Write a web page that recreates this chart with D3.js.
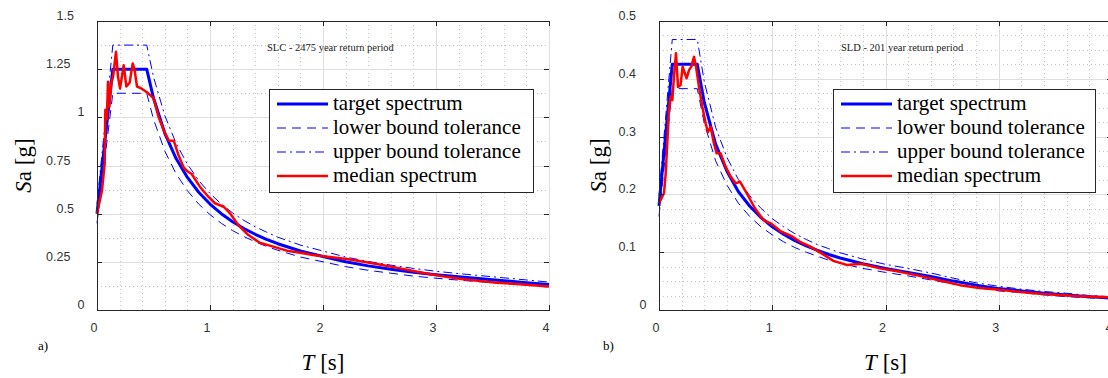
<!DOCTYPE html>
<html>
<head>
<meta charset="utf-8">
<script src="https://cdn.jsdelivr.net/npm/d3@7"></script>
<style>
  body { margin: 0; background: #fff; }
  svg { display: block; }
</style>
</head>
<body>
<div id="chart"></div>
<script>
// periods [s] / spectral acceleration [g]

// a) SLC - 2475 year return period
const periodsSLC = [0, 0.14, 0.44, 0.5, 0.6, 0.7, 0.8, 0.9, 1.0, 1.1, 1.2, 1.3, 1.4, 1.5, 1.6, 1.8, 2.0, 2.2, 2.4, 2.6, 2.8, 3.0, 3.2, 3.4, 3.6, 3.8, 4.0];
const targetSLC = [0.50, 1.25, 1.25, 1.10, 0.917, 0.786, 0.688, 0.611, 0.55, 0.50, 0.458, 0.423, 0.393, 0.367, 0.344, 0.306, 0.278, 0.25, 0.229, 0.212, 0.196, 0.183, 0.172, 0.162, 0.152, 0.142, 0.132];
const lowerSLC = [0.45, 1.125, 1.125, 0.99, 0.825, 0.707, 0.619, 0.55, 0.495, 0.45, 0.412, 0.381, 0.354, 0.33, 0.31, 0.275, 0.25, 0.225, 0.206, 0.191, 0.176, 0.165, 0.155, 0.146, 0.137, 0.128, 0.119];
const upperSLC = [0.55, 1.375, 1.375, 1.21, 1.009, 0.865, 0.757, 0.672, 0.605, 0.55, 0.504, 0.465, 0.432, 0.404, 0.378, 0.337, 0.306, 0.275, 0.252, 0.233, 0.216, 0.201, 0.189, 0.178, 0.167, 0.156, 0.145];
const medianPeriodsSLC = [0, 0.044, 0.068, 0.074, 0.088, 0.097, 0.109, 0.127, 0.142, 0.168, 0.186, 0.204, 0.236, 0.26, 0.289, 0.316, 0.333, 0.354, 0.392, 0.442, 0.48, 0.50, 0.546, 0.59, 0.634, 0.68, 0.723, 0.767, 0.80, 0.838, 0.91, 0.985, 1.044, 1.12, 1.177, 1.25, 1.34, 1.44, 1.56, 1.68, 1.80, 1.91, 2.06, 2.21, 2.36, 2.50, 2.65, 2.80, 2.95, 3.09, 3.24, 3.39, 3.54, 3.68, 3.83, 4.0];
const medianSLC = [0.50, 0.62, 0.76, 1.04, 0.99, 1.185, 1.055, 1.18, 1.21, 1.34, 1.21, 1.15, 1.27, 1.16, 1.18, 1.28, 1.245, 1.16, 1.15, 1.13, 1.11, 1.10, 1.00, 0.934, 0.88, 0.878, 0.80, 0.74, 0.72, 0.706, 0.64, 0.588, 0.554, 0.536, 0.502, 0.441, 0.389, 0.349, 0.329, 0.308, 0.297, 0.285, 0.275, 0.265, 0.25, 0.236, 0.22, 0.202, 0.186, 0.172, 0.16, 0.15, 0.142, 0.136, 0.13, 0.122];
const yTicksSLC = [0, 0.25, 0.5, 0.75, 1, 1.25, 1.5];
const yTickLabelsSLC = ["0", "0.25", "0.5", "0.75", "1", "1.25", "1.5"];

// b) SLD - 201 year return period
const periodsSLD = [0, 0.117, 0.338, 0.4, 0.5, 0.6, 0.7, 0.8, 0.9, 1.0, 1.1, 1.2, 1.3, 1.4, 1.5, 1.6, 1.8, 2.0, 2.2, 2.4, 2.6, 2.8, 3.0, 3.2, 3.4, 3.6, 3.8, 4.0];
const targetSLD = [0.18, 0.425, 0.425, 0.359, 0.287, 0.240, 0.205, 0.180, 0.160, 0.144, 0.131, 0.120, 0.111, 0.103, 0.096, 0.090, 0.080, 0.072, 0.065, 0.058, 0.050, 0.043, 0.037, 0.033, 0.029, 0.026, 0.023, 0.021];
const lowerSLD = [0.162, 0.383, 0.383, 0.323, 0.258, 0.216, 0.185, 0.162, 0.144, 0.130, 0.118, 0.108, 0.100, 0.093, 0.086, 0.081, 0.072, 0.065, 0.059, 0.052, 0.045, 0.039, 0.033, 0.030, 0.026, 0.023, 0.021, 0.019];
const upperSLD = [0.198, 0.468, 0.468, 0.395, 0.316, 0.264, 0.226, 0.198, 0.176, 0.158, 0.144, 0.132, 0.122, 0.113, 0.106, 0.099, 0.088, 0.079, 0.072, 0.064, 0.055, 0.047, 0.041, 0.036, 0.032, 0.029, 0.025, 0.023];
const medianPeriodsSLD = [0, 0.044, 0.059, 0.079, 0.088, 0.103, 0.118, 0.132, 0.15, 0.168, 0.19, 0.209, 0.227, 0.244, 0.265, 0.285, 0.309, 0.327, 0.353, 0.382, 0.412, 0.432, 0.456, 0.485, 0.509, 0.544, 0.588, 0.633, 0.677, 0.715, 0.774, 0.847, 0.92, 0.995, 1.068, 1.17, 1.245, 1.333, 1.436, 1.54, 1.657, 1.79, 1.95, 2.127, 2.30, 2.48, 2.657, 2.83, 3.01, 3.19, 3.36, 3.54, 3.72, 3.96, 4.0];
const medianSLD = [0.185, 0.202, 0.236, 0.311, 0.346, 0.369, 0.363, 0.404, 0.444, 0.386, 0.389, 0.421, 0.41, 0.401, 0.415, 0.421, 0.438, 0.421, 0.386, 0.352, 0.323, 0.308, 0.317, 0.288, 0.271, 0.271, 0.248, 0.231, 0.219, 0.222, 0.202, 0.176, 0.156, 0.149, 0.137, 0.128, 0.118, 0.110, 0.098, 0.085, 0.078, 0.080, 0.072, 0.066, 0.059, 0.051, 0.043, 0.038, 0.035, 0.031, 0.028, 0.026, 0.024, 0.022, 0.021];
const yTicksSLD = [0, 0.1, 0.2, 0.3, 0.4, 0.5];
const yTickLabelsSLD = ["0", "0.1", "0.2", "0.3", "0.4", "0.5"];

const xTicks = [0, 1, 2, 3, 4];
const xTickLabels = ["0", "1", "2", "3", "4"];
const legendLabels = ["target spectrum", "lower bound tolerance", "upper bound tolerance", "median spectrum"];

const blue = "#0000ff", red = "#ff0000", axisColor = "#262626";
const serif = "'Liberation Serif', 'Times New Roman', serif";
const sans = "'Liberation Sans', Arial, sans-serif";

const svg = d3.select("#chart").append("svg")
  .attr("width", 1108)
  .attr("height", 378);

const panels = [
  {
    left: 97, top: 21, width: 452, height: 289, yMax: 1.5, yMinor: 0.125,
    yTicks: yTicksSLC, yTickLabels: yTickLabelsSLC,
    T: periodsSLC, target: targetSLC, lower: lowerSLC, upper: upperSLC,
    medT: medianPeriodsSLC, median: medianSLC,
    title: "SLC - 2475 year return period", titleX: 267,
    tag: "a)", tagX: 38, yLabelX: 31, legendX: 269, legendW: 264, rightBorder: false
  },
  {
    left: 659, top: 21, width: 453, height: 289, yMax: 0.5, yMinor: 0.025,
    yTicks: yTicksSLD, yTickLabels: yTickLabelsSLD,
    T: periodsSLD, target: targetSLD, lower: lowerSLD, upper: upperSLD,
    medT: medianPeriodsSLD, median: medianSLD,
    title: "SLD - 201 year return period", titleX: 841,
    tag: "b)", tagX: 603, yLabelX: 606, legendX: 833, legendW: 262, rightBorder: true
  }
];

panels.forEach(function (p) {
  const x = d3.scaleLinear().domain([0, 4]).range([0, p.width]);
  const y = d3.scaleLinear().domain([0, p.yMax]).range([p.height, 0]);

  const g = svg.append("g")
    .attr("transform", "translate(" + p.left + "," + p.top + ")");

  // minor grid (dotted)
  const minorX = d3.range(0, 4.0001, 0.2);
  const minorY = d3.range(0, p.yMax + 1e-9, p.yMinor);
  g.append("g").selectAll("line").data(minorX).enter().append("line")
    .attr("x1", d => Math.round(x(d)) + 0.5).attr("x2", d => Math.round(x(d)) + 0.5)
    .attr("y1", 0).attr("y2", p.height)
    .attr("stroke", "#c4c4c4").attr("stroke-dasharray", "1,3");
  g.append("g").selectAll("line").data(minorY).enter().append("line")
    .attr("y1", d => Math.round(y(d)) + 0.5).attr("y2", d => Math.round(y(d)) + 0.5)
    .attr("x1", 0).attr("x2", p.width)
    .attr("stroke", "#c4c4c4").attr("stroke-dasharray", "1,3");

  // major grid
  g.append("g").selectAll("line").data(xTicks).enter().append("line")
    .attr("x1", d => Math.round(x(d)) + 0.5).attr("x2", d => Math.round(x(d)) + 0.5)
    .attr("y1", 0).attr("y2", p.height)
    .attr("stroke", "#dedede");
  g.append("g").selectAll("line").data(p.yTicks).enter().append("line")
    .attr("y1", d => Math.round(y(d)) + 0.5).attr("y2", d => Math.round(y(d)) + 0.5)
    .attr("x1", 0).attr("x2", p.width)
    .attr("stroke", "#dedede");

  const line = d3.line()
    .x(d => x(d[0]))
    .y(d => y(d[1]));

  const series = [
    { t: p.T, v: p.target, color: blue, width: 3, dash: null },
    { t: p.T, v: p.lower, color: blue, width: 1, dash: "9,6" },
    { t: p.T, v: p.upper, color: blue, width: 1, dash: "9,4,2,4" },
    { t: p.medT, v: p.median, color: red, width: 2.5, dash: null }
  ];
  series.forEach(function (s) {
    g.append("path")
      .datum(d3.zip(s.t, s.v))
      .attr("fill", "none")
      .attr("stroke", s.color)
      .attr("stroke-width", s.width)
      .attr("stroke-linejoin", "round")
      .attr("stroke-dasharray", s.dash)
      .attr("d", line);
  });

  // axes, ticks pointing inward
  const axes = g.append("g").attr("shape-rendering", "crispEdges");
  const styleAxis = function (sel, showDomain) {
    sel.selectAll("line").attr("stroke", axisColor);
    sel.select(".domain").attr("stroke", showDomain ? axisColor : "none");
    sel.selectAll("text").remove();
  };
  axes.append("g").attr("transform", "translate(0," + p.height + ")")
    .call(d3.axisBottom(x).tickValues(xTicks).tickSize(-5).tickSizeOuter(0))
    .call(s => styleAxis(s, true));
  axes.append("g")
    .call(d3.axisTop(x).tickValues(xTicks).tickSize(-5).tickSizeOuter(0))
    .call(s => styleAxis(s, true));
  axes.append("g")
    .call(d3.axisLeft(y).tickValues(p.yTicks).tickSize(-5).tickSizeOuter(0))
    .call(s => styleAxis(s, true));
  axes.append("g").attr("transform", "translate(" + p.width + ",0)")
    .call(d3.axisRight(y).tickValues(p.yTicks).tickSize(-5).tickSizeOuter(0))
    .call(s => styleAxis(s, p.rightBorder));

  // tick labels
  g.append("g").selectAll("text").data(xTicks).enter().append("text")
    .attr("x", d => x(d) - 3)
    .attr("y", p.height + 22)
    .attr("text-anchor", "middle")
    .attr("font-family", sans).attr("font-size", 12.5).attr("fill", "#333")
    .text((d, i) => xTickLabels[i]);
  g.append("g").selectAll("text").data(p.yTicks).enter().append("text")
    .attr("x", (d, i) => -9 - 10.5 * p.yTickLabels[i].length)
    .attr("y", d => y(d) - 1)
    .attr("font-family", sans).attr("font-size", 12.5).attr("fill", "#333")
    .text((d, i) => p.yTickLabels[i]);

  // in-plot title
  svg.append("text")
    .attr("x", p.titleX).attr("y", 50.5)
    .attr("font-family", serif).attr("font-size", 10.5).attr("fill", "#222")
    .text(p.title);

  // legend
  const lg = svg.append("g").attr("transform", "translate(" + p.legendX + ",89)");
  lg.append("rect")
    .attr("x", 0.5).attr("y", 0.5)
    .attr("width", p.legendW).attr("height", 103)
    .attr("fill", "#fff").attr("stroke", axisColor);
  series.forEach(function (s, i) {
    const cy = 15 + i * 24;
    lg.append("line")
      .attr("x1", 8).attr("x2", 59).attr("y1", cy).attr("y2", cy)
      .attr("stroke", s.color).attr("stroke-width", s.width)
      .attr("stroke-dasharray", s.dash);
    lg.append("text")
      .attr("x", 64).attr("y", cy + 6)
      .attr("font-family", serif).attr("font-size", 21).attr("fill", "#000")
      .text(legendLabels[i]);
  });

  // axis labels
  const xl = svg.append("text")
    .attr("x", p.left + p.width / 2).attr("y", 370)
    .attr("text-anchor", "middle")
    .attr("font-family", serif).attr("font-size", 23).attr("fill", "#000");
  xl.append("tspan").attr("font-style", "italic").text("T");
  xl.append("tspan").text(" [s]");

  const yl = svg.append("text")
    .attr("transform", "translate(" + p.yLabelX + "," + (p.top + p.height / 2) + ") rotate(-90)")
    .attr("text-anchor", "middle")
    .attr("font-family", serif).attr("font-size", 23).attr("fill", "#000");
  yl.append("tspan").attr("font-style", "italic").text("S");
  yl.append("tspan").text("a [g]");

  svg.append("text")
    .attr("x", p.tagX).attr("y", 350)
    .attr("font-family", serif).attr("font-size", 13).attr("fill", "#000")
    .text(p.tag);
});
</script>
</body>
</html>
